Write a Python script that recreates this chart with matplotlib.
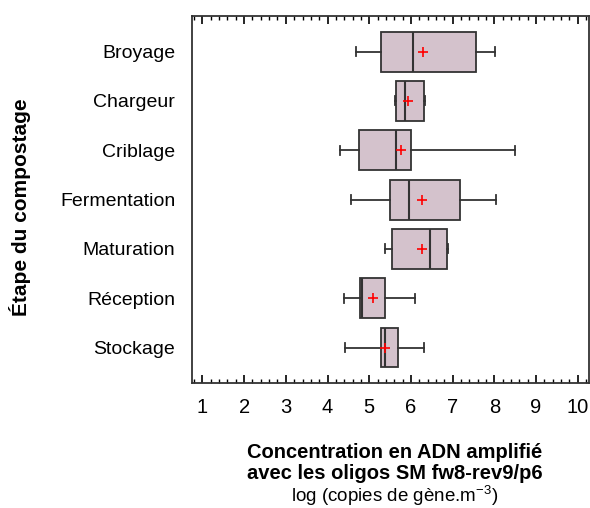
import matplotlib
matplotlib.use('Agg')
import matplotlib.pyplot as plt
from matplotlib.ticker import MultipleLocator

plt.rcParams['font.family'] = ['Liberation Sans', 'DejaVu Sans']
plt.rcParams['mathtext.fontset'] = 'custom'
plt.rcParams['mathtext.rm'] = 'Liberation Sans'

# values (log copies de gène.m-3)
etapes = ['Broyage', 'Chargeur', 'Criblage', 'Fermentation', 'Maturation', 'Réception', 'Stockage']
mins = [4.68, 5.62, 4.30, 4.56, 5.37, 4.39, 4.42]
q1s = [5.27, 5.63, 4.76, 5.50, 5.54, 4.78, 5.27]
medians = [6.05, 5.86, 5.64, 5.95, 6.45, 4.83, 5.37]
q3s = [7.56, 6.32, 5.99, 7.17, 6.87, 5.37, 5.70]
maxs = [8.01, 6.33, 8.50, 8.05, 6.90, 6.10, 6.32]
means = [6.29, 5.93, 5.77, 6.26, 6.26, 5.08, 5.37]

FILL = '#d4c2cc'
EDGE = '#333333'

stats = []
for i in range(len(etapes)):
    stats.append({'label': etapes[i], 'whislo': mins[i], 'q1': q1s[i], 'med': medians[i],
                  'q3': q3s[i], 'whishi': maxs[i], 'mean': means[i], 'fliers': []})

fig = plt.figure(figsize=(5.9, 5.08), dpi=100)
ax = fig.add_axes([0.3254, 0.246, 0.6737, 0.7224])

positions = list(range(1, len(etapes) + 1))
ax.bxp(stats, positions=positions, vert=False, widths=0.81, capwidths=0.18,
       showmeans=True, patch_artist=True,
       boxprops=dict(facecolor=FILL, edgecolor=EDGE, linewidth=1.3),
       medianprops=dict(color=EDGE, linewidth=1.5),
       whiskerprops=dict(color=EDGE, linewidth=1.3),
       capprops=dict(color=EDGE, linewidth=1.3),
       meanprops=dict(marker='+', markeredgecolor='red', markersize=7, markeredgewidth=1.2))

ax.set_xlim(0.75, 10.28)
ax.set_ylim(7.72, 0.28)
ax.set_yticks(positions)
ax.set_yticklabels(etapes, fontsize=14)
ax.tick_params(axis='y', length=0, pad=12)

ax.xaxis.set_major_locator(MultipleLocator(1))
ax.xaxis.set_minor_locator(MultipleLocator(0.2))
ax.tick_params(axis='x', which='major', direction='in', length=6, width=1.2,
               top=True, bottom=True, labelsize=14.5, pad=10.5)
ax.tick_params(axis='x', which='minor', direction='in', length=3, width=1.0,
               top=True, bottom=True)
for s in ax.spines.values():
    s.set_linewidth(1.3)
    s.set_color(EDGE)

fig.text(0.034, 0.5915, 'Étape du compostage', rotation=90, ha='center', va='center',
         fontsize=15, fontweight='bold')
fig.text(0.669, 0.0985, 'Concentration en ADN amplifié', ha='center', va='baseline',
         fontsize=14.5, fontweight='bold')
fig.text(0.669, 0.0575, 'avec les oligos SM fw8-rev9/p6', ha='center', va='baseline',
         fontsize=14.5, fontweight='bold')
fig.text(0.669, 0.012, r'log (copies de gène.m$^{\mathregular{-3}}$)', ha='center', va='baseline',
         fontsize=13.5)

fig.savefig('out.png', dpi=100)
